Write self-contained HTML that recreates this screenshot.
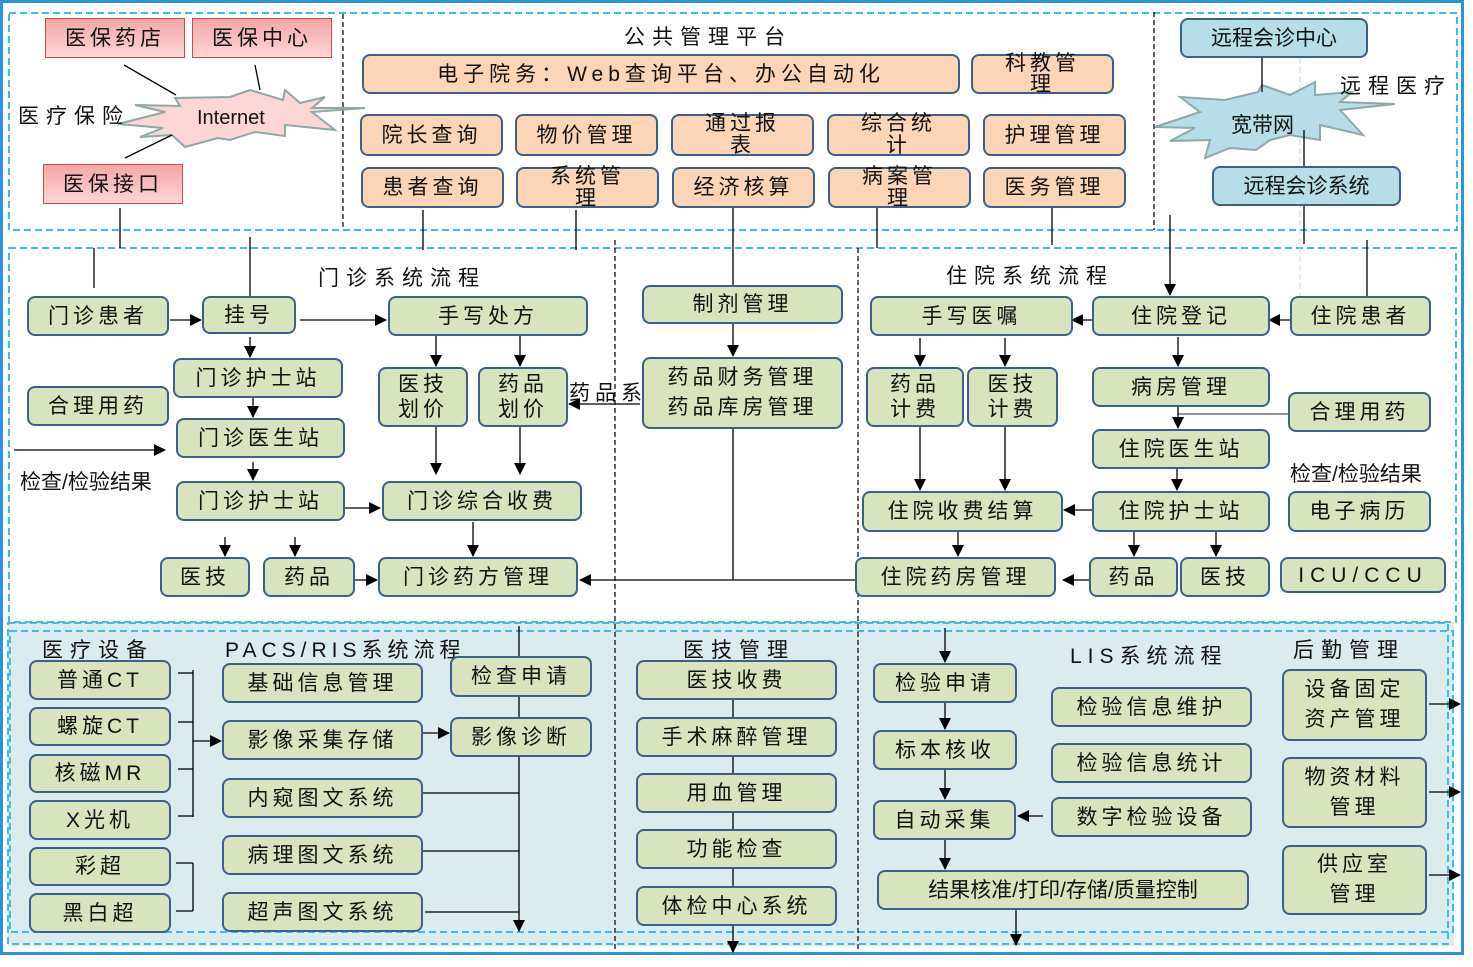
<!DOCTYPE html>
<html><head><meta charset="utf-8">
<style>
html,body{margin:0;padding:0;background:#fff;}
body{width:1473px;height:967px;position:relative;overflow:hidden;font-family:"Liberation Sans","Noto Sans CJK SC",sans-serif;color:#111;}
.b{position:absolute;box-sizing:border-box;display:flex;align-items:center;justify-content:center;text-align:center;font-size:21px;letter-spacing:4px;line-height:25px;border:2.5px solid #3d5f8e;border-radius:8px;background:#d7e4bd;}
.o{background:#fbd5b5;}
.p{background:linear-gradient(#f3a6a6,#ffd6d6);border:1.5px solid #cf4a4a;border-radius:0;}
.c{background:#b7dde8;letter-spacing:0;}
.t{position:absolute;font-size:21px;letter-spacing:6px;white-space:nowrap;}
svg{position:absolute;left:0;top:0;}
</style></head><body>
<svg width="1473" height="967" style="z-index:0">
<defs><marker id="a" markerWidth="12" markerHeight="12" refX="11" refY="6" orient="auto" markerUnits="userSpaceOnUse"><path d="M0,0 L12,6 L0,12 z" fill="#000"/></marker></defs>
<rect x="8" y="622" width="1446" height="324" fill="#daecee"/>
<rect x="1.5" y="1.5" width="1461" height="952" fill="none" stroke="#2b93d8" stroke-width="3"/>
<g fill="none" stroke="#3dbaf2" stroke-width="2" stroke-dasharray="7,4">
<rect x="9" y="13" width="1448" height="217"/>
<rect x="9" y="248" width="1447" height="374"/>
<rect x="8" y="623" width="1440" height="321"/>
<rect x="10" y="631" width="1443" height="301"/>
</g>
<g stroke="#000" stroke-width="1.2" stroke-dasharray="5,3">
<line x1="343" y1="14" x2="343" y2="230"/><line x1="1154" y1="12" x2="1154" y2="230"/>
<line x1="615" y1="240" x2="615" y2="952"/><line x1="858" y1="248" x2="858" y2="952"/>
</g>
<line x1="1300" y1="58" x2="1300" y2="296" stroke="#b8dce8" stroke-width="1" stroke-dasharray="6,3"/>
<polygon points="118,124 165,112 135,105 180,106 175,98 230,97 250,90 283,100 285,90 300,103 325,97 312,108 365,108 312,112 335,130 285,125 285,136 255,132 230,140 218,138 185,147 172,135 140,137 163,128" fill="#fcd5d5" stroke="#8fa9a9" stroke-width="2"/>
<polygon points="1155,127 1200,112 1180,97 1225,100 1258,92 1262,85 1290,95 1315,82 1315,95 1352,92 1340,102 1395,104 1340,110 1363,135 1320,125 1320,140 1290,135 1270,140 1256,150 1230,148 1205,158 1210,140 1170,141 1195,128" fill="#b7dde8" stroke="#8fa9a9" stroke-width="2"/>
<g stroke="#000" stroke-width="1.3" fill="none">
<line x1="124" y1="65" x2="176" y2="95"/><line x1="255" y1="65" x2="260" y2="90"/><line x1="125" y1="158" x2="172" y2="135"/>
<line x1="1262" y1="52" x2="1262" y2="92"/><line x1="1304" y1="130" x2="1304" y2="170"/><line x1="1304" y1="206" x2="1304" y2="244"/>
<line x1="120" y1="208" x2="120" y2="248"/><line x1="94" y1="248" x2="94" y2="288"/><line x1="250" y1="237" x2="250" y2="296"/>
<line x1="423" y1="210" x2="423" y2="250"/><line x1="576" y1="210" x2="576" y2="250"/><line x1="733" y1="208" x2="733" y2="285"/>
<line x1="877" y1="208" x2="877" y2="248"/><line x1="1052" y1="208" x2="1052" y2="245"/><line x1="1367" y1="240" x2="1367" y2="296"/>
<line x1="1170" y1="215" x2="1170" y2="295" marker-end="url(#a)"/>
<line x1="170" y1="320" x2="201" y2="320" marker-end="url(#a)"/>
<line x1="300" y1="320" x2="386" y2="320" marker-end="url(#a)"/>
<line x1="250" y1="337" x2="250" y2="357" marker-end="url(#a)"/>
<line x1="253" y1="398" x2="253" y2="417" marker-end="url(#a)"/>
<line x1="14" y1="450" x2="165" y2="450" marker-end="url(#a)"/>
<line x1="253" y1="462" x2="253" y2="480" marker-end="url(#a)"/>
<line x1="436" y1="336" x2="436" y2="366" marker-end="url(#a)"/>
<line x1="520" y1="336" x2="520" y2="366" marker-end="url(#a)"/>
<line x1="640" y1="404" x2="569" y2="404" marker-end="url(#a)"/>
<line x1="436" y1="427" x2="436" y2="474" marker-end="url(#a)"/>
<line x1="520" y1="427" x2="520" y2="474" marker-end="url(#a)"/>
<line x1="345" y1="508" x2="380" y2="508" marker-end="url(#a)"/>
<line x1="225" y1="537" x2="225" y2="556" marker-end="url(#a)"/>
<line x1="295" y1="537" x2="295" y2="556" marker-end="url(#a)"/>
<line x1="355" y1="580" x2="377" y2="580" marker-end="url(#a)"/>
<line x1="473" y1="522" x2="473" y2="556" marker-end="url(#a)"/>
<line x1="855" y1="580" x2="580" y2="580" marker-end="url(#a)"/>
<line x1="733" y1="324" x2="733" y2="356" marker-end="url(#a)"/>
<line x1="733" y1="429" x2="733" y2="580"/>
<line x1="1290" y1="320" x2="1269" y2="320" marker-end="url(#a)"/>
<line x1="1092" y1="320" x2="1072" y2="320" marker-end="url(#a)"/>
<line x1="920" y1="338" x2="920" y2="366" marker-end="url(#a)"/>
<line x1="1005" y1="338" x2="1005" y2="366" marker-end="url(#a)"/>
<line x1="920" y1="427" x2="920" y2="490" marker-end="url(#a)"/>
<line x1="1005" y1="427" x2="1005" y2="490" marker-end="url(#a)"/>
<line x1="1178" y1="337" x2="1178" y2="366" marker-end="url(#a)"/>
<line x1="1288" y1="414" x2="1178" y2="414" stroke="#555"/>
<line x1="1178" y1="407" x2="1178" y2="428" marker-end="url(#a)"/>
<line x1="1177" y1="469" x2="1177" y2="490" marker-end="url(#a)"/>
<line x1="1092" y1="510" x2="1064" y2="510" marker-end="url(#a)"/>
<line x1="958" y1="532" x2="958" y2="556" marker-end="url(#a)"/>
<line x1="1134" y1="532" x2="1134" y2="556" marker-end="url(#a)"/>
<line x1="1216" y1="532" x2="1216" y2="556" marker-end="url(#a)"/>
<line x1="1089" y1="580" x2="1063" y2="580" marker-end="url(#a)"/>
<line x1="178" y1="673" x2="193" y2="673"/><line x1="178" y1="722" x2="193" y2="722"/><line x1="178" y1="769" x2="193" y2="769"/><line x1="178" y1="816" x2="193" y2="816"/>
<line x1="193" y1="670" x2="193" y2="817"/>
<line x1="193" y1="741" x2="221" y2="741" marker-end="url(#a)"/>
<line x1="176" y1="863" x2="193" y2="863"/><line x1="176" y1="911" x2="193" y2="911"/><line x1="193" y1="863" x2="193" y2="911"/>
<line x1="423" y1="733" x2="449" y2="733" marker-end="url(#a)"/>
<line x1="519" y1="626" x2="519" y2="931" marker-end="url(#a)"/>
<line x1="423" y1="793" x2="519" y2="793"/><line x1="423" y1="851" x2="519" y2="851"/><line x1="425" y1="912" x2="519" y2="912"/>
<line x1="733" y1="700" x2="733" y2="952" marker-end="url(#a)"/>
<line x1="945" y1="628" x2="945" y2="662" marker-end="url(#a)"/>
<line x1="945" y1="703" x2="945" y2="729" marker-end="url(#a)"/>
<line x1="945" y1="770" x2="945" y2="799" marker-end="url(#a)"/>
<line x1="945" y1="840" x2="945" y2="869" marker-end="url(#a)"/>
<line x1="1043" y1="816" x2="1018" y2="816" marker-end="url(#a)"/>
<line x1="1016" y1="910" x2="1016" y2="945" marker-end="url(#a)"/>
<line x1="1429" y1="704" x2="1460" y2="704" marker-end="url(#a)"/>
<line x1="1429" y1="792" x2="1460" y2="792" marker-end="url(#a)"/>
<line x1="1429" y1="875" x2="1460" y2="875" marker-end="url(#a)"/>
</g>
</svg>

<div style="position:absolute;left:0;top:0;width:1473px;height:967px;z-index:1">
<div class="b p" style="left:45px;top:18px;width:140px;height:40px">医保药店</div>
<div class="b p" style="left:192px;top:18px;width:140px;height:40px">医保中心</div>
<div class="b p" style="left:43px;top:164px;width:140px;height:40px">医保接口</div>
<div class="t" style="left:18px;top:100px;letter-spacing:7px">医疗保险</div>
<div class="t" style="left:197px;top:107px;letter-spacing:0;font-size:20px">Internet</div>
<div class="t" style="left:624px;top:21px;letter-spacing:7px">公共管理平台</div>
<div class="b o" style="left:362px;top:54px;width:598px;height:40px;letter-spacing:5px">电子院务：Web查询平台、办公自动化</div>
<div class="b o" style="left:971px;top:54px;width:143px;height:40px;line-height:21px">科教管<br>理</div>
<div class="b o" style="left:360px;top:114px;width:143px;height:42px">院长查询</div>
<div class="b o" style="left:515px;top:114px;width:143px;height:42px">物价管理</div>
<div class="b o" style="left:671px;top:114px;width:143px;height:42px;line-height:22px">通过报<br>表</div>
<div class="b o" style="left:827px;top:114px;width:143px;height:42px;line-height:22px">综合统<br>计</div>
<div class="b o" style="left:983px;top:114px;width:143px;height:42px">护理管理</div>
<div class="b o" style="left:361px;top:167px;width:143px;height:41px">患者查询</div>
<div class="b o" style="left:516px;top:167px;width:143px;height:41px;line-height:22px">系统管<br>理</div>
<div class="b o" style="left:672px;top:167px;width:143px;height:41px">经济核算</div>
<div class="b o" style="left:828px;top:167px;width:143px;height:41px;line-height:22px">病案管<br>理</div>
<div class="b o" style="left:983px;top:167px;width:143px;height:41px">医务管理</div>
<div class="b c" style="left:1180px;top:18px;width:188px;height:40px">远程会诊中心</div>
<div class="t" style="left:1231px;top:109px;letter-spacing:0">宽带网</div>
<div class="b c" style="left:1212px;top:166px;width:189px;height:40px">远程会诊系统</div>
<div class="t" style="left:1340px;top:70px;letter-spacing:7px">远程医疗</div>
<div class="t" style="left:318px;top:262px;letter-spacing:7px">门诊系统流程</div>
<div class="b" style="left:27px;top:296px;width:142px;height:40px">门诊患者</div>
<div class="b" style="left:202px;top:296px;width:94px;height:38px">挂号</div>
<div class="b" style="left:388px;top:296px;width:200px;height:40px">手写处方</div>
<div class="b" style="left:173px;top:358px;width:170px;height:40px">门诊护士站</div>
<div class="b" style="left:27px;top:386px;width:142px;height:40px">合理用药</div>
<div class="b" style="left:176px;top:418px;width:169px;height:40px">门诊医生站</div>
<div class="t" style="left:20px;top:466px;letter-spacing:0">检查/检验结果</div>
<div class="b" style="left:176px;top:481px;width:169px;height:40px">门诊护士站</div>
<div class="b" style="left:378px;top:367px;width:90px;height:60px">医技<br>划价</div>
<div class="b" style="left:478px;top:367px;width:90px;height:60px">药品<br>划价</div>
<div class="t" style="left:569px;top:377px;letter-spacing:5px">药品系</div>
<div class="b" style="left:382px;top:481px;width:200px;height:40px">门诊综合收费</div>
<div class="b" style="left:160px;top:557px;width:90px;height:40px">医技</div>
<div class="b" style="left:263px;top:557px;width:92px;height:40px">药品</div>
<div class="b" style="left:378px;top:557px;width:200px;height:40px">门诊药方管理</div>
<div class="b" style="left:642px;top:285px;width:201px;height:39px">制剂管理</div>
<div class="b" style="left:642px;top:357px;width:201px;height:72px;line-height:30px">药品财务管理<br>药品库房管理</div>
<div class="t" style="left:946px;top:260px;letter-spacing:7px">住院系统流程</div>
<div class="b" style="left:870px;top:296px;width:203px;height:40px">手写医嘱</div>
<div class="b" style="left:1092px;top:296px;width:178px;height:40px">住院登记</div>
<div class="b" style="left:1290px;top:296px;width:141px;height:40px">住院患者</div>
<div class="b" style="left:866px;top:367px;width:98px;height:60px">药品<br>计费</div>
<div class="b" style="left:967px;top:367px;width:91px;height:60px">医技<br>计费</div>
<div class="b" style="left:1092px;top:367px;width:178px;height:40px">病房管理</div>
<div class="b" style="left:1288px;top:392px;width:143px;height:40px">合理用药</div>
<div class="b" style="left:1092px;top:429px;width:178px;height:40px">住院医生站</div>
<div class="t" style="left:1290px;top:458px;letter-spacing:0">检查/检验结果</div>
<div class="b" style="left:862px;top:491px;width:201px;height:41px">住院收费结算</div>
<div class="b" style="left:1092px;top:491px;width:178px;height:41px">住院护士站</div>
<div class="b" style="left:1288px;top:491px;width:143px;height:41px">电子病历</div>
<div class="b" style="left:855px;top:557px;width:201px;height:40px">住院药房管理</div>
<div class="b" style="left:1089px;top:557px;width:89px;height:40px">药品</div>
<div class="b" style="left:1180px;top:557px;width:90px;height:40px">医技</div>
<div class="b" style="left:1280px;top:557px;width:166px;height:36px;letter-spacing:6px">ICU/CCU</div>
<div class="t" style="left:42px;top:634px;letter-spacing:7px">医疗设备</div>
<div class="t" style="left:225px;top:634px;letter-spacing:5px">PACS/RIS系统流程</div>
<div class="b" style="left:29px;top:660px;width:142px;height:40px">普通CT</div>
<div class="b" style="left:29px;top:707px;width:142px;height:39px">螺旋CT</div>
<div class="b" style="left:29px;top:754px;width:142px;height:39px">核磁MR</div>
<div class="b" style="left:29px;top:800px;width:142px;height:40px">X光机</div>
<div class="b" style="left:29px;top:847px;width:142px;height:39px">彩超</div>
<div class="b" style="left:29px;top:893px;width:142px;height:40px">黑白超</div>
<div class="b" style="left:222px;top:663px;width:201px;height:40px">基础信息管理</div>
<div class="b" style="left:222px;top:720px;width:201px;height:40px">影像采集存储</div>
<div class="b" style="left:222px;top:778px;width:201px;height:40px">内窥图文系统</div>
<div class="b" style="left:222px;top:835px;width:201px;height:40px">病理图文系统</div>
<div class="b" style="left:222px;top:892px;width:201px;height:40px">超声图文系统</div>
<div class="b" style="left:450px;top:656px;width:142px;height:41px">检查申请</div>
<div class="b" style="left:450px;top:717px;width:142px;height:40px">影像诊断</div>
<div class="t" style="left:683px;top:634px;letter-spacing:7px">医技管理</div>
<div class="b" style="left:636px;top:660px;width:201px;height:40px">医技收费</div>
<div class="b" style="left:636px;top:717px;width:201px;height:40px">手术麻醉管理</div>
<div class="b" style="left:636px;top:773px;width:201px;height:40px">用血管理</div>
<div class="b" style="left:636px;top:829px;width:201px;height:40px">功能检查</div>
<div class="b" style="left:636px;top:886px;width:201px;height:40px">体检中心系统</div>
<div class="t" style="left:1070px;top:640px;letter-spacing:6px">LIS系统流程</div>
<div class="b" style="left:873px;top:663px;width:144px;height:40px">检验申请</div>
<div class="b" style="left:873px;top:730px;width:144px;height:40px">标本核收</div>
<div class="b" style="left:873px;top:800px;width:143px;height:40px">自动采集</div>
<div class="b" style="left:1051px;top:687px;width:201px;height:40px">检验信息维护</div>
<div class="b" style="left:1051px;top:743px;width:201px;height:40px">检验信息统计</div>
<div class="b" style="left:1051px;top:797px;width:201px;height:40px">数字检验设备</div>
<div class="b" style="left:877px;top:870px;width:372px;height:40px;letter-spacing:0">结果核准/打印/存储/质量控制</div>
<div class="t" style="left:1293px;top:634px;letter-spacing:7px">后勤管理</div>
<div class="b" style="left:1282px;top:669px;width:145px;height:72px;line-height:30px">设备固定<br>资产管理</div>
<div class="b" style="left:1282px;top:757px;width:145px;height:71px;line-height:30px">物资材料<br>管理</div>
<div class="b" style="left:1282px;top:845px;width:145px;height:70px;line-height:30px">供应室<br>管理</div>
</div>
</body></html>
